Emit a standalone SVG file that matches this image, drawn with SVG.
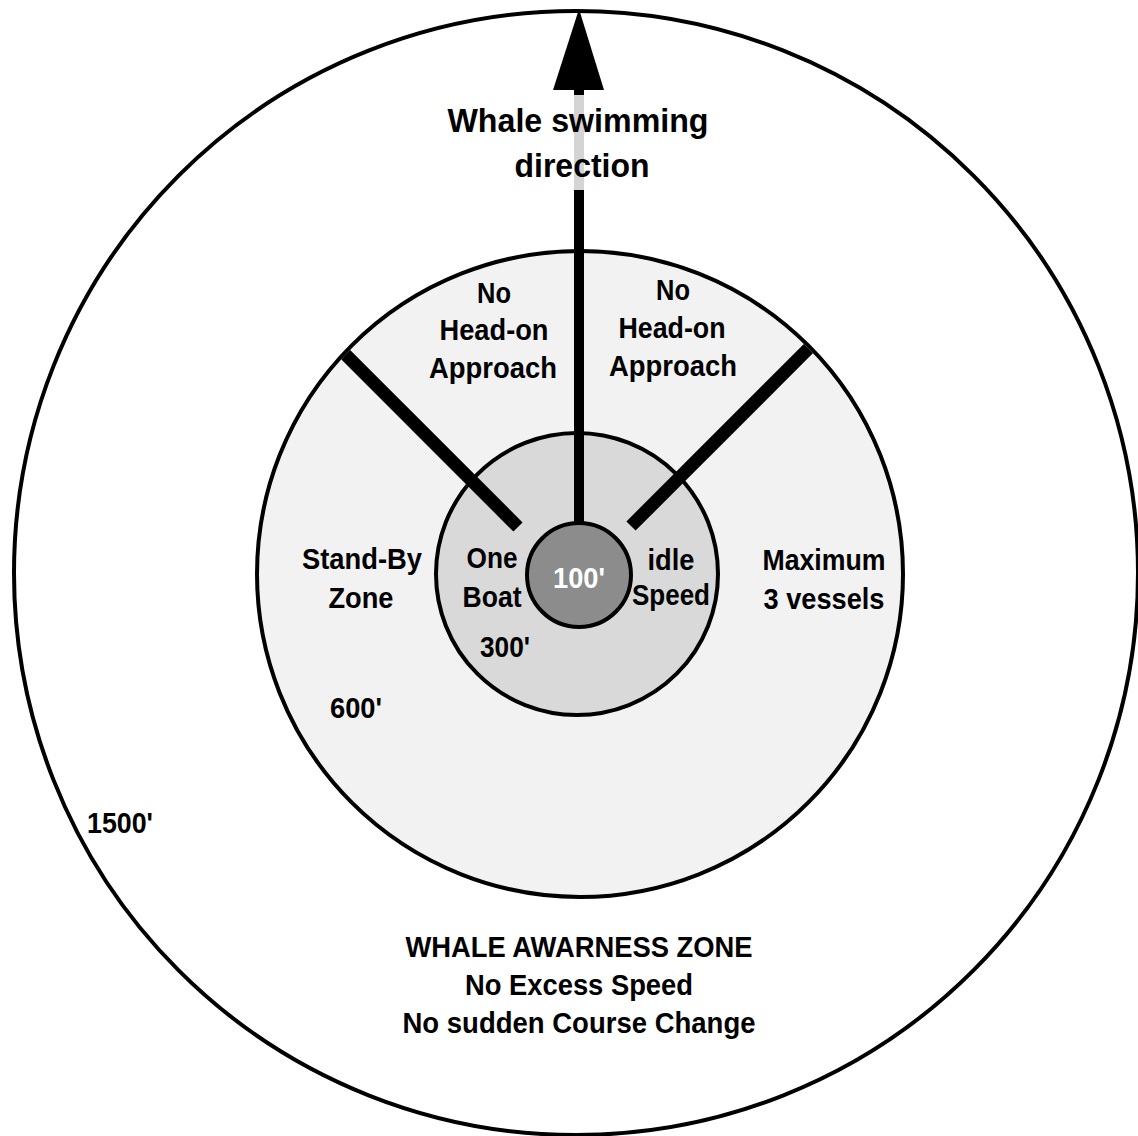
<svg xmlns="http://www.w3.org/2000/svg" width="1138" height="1136" viewBox="0 0 1138 1136">
<style>
  .ring { stroke: #000; stroke-width: 4; }
  .t { font-family: "Liberation Sans Narrow", "Liberation Sans", Arial, sans-serif; font-weight: bold; fill: #000; text-anchor: middle; }
  .s29 { font-size: 29px; }
  .s34 { font-size: 34px; }
  .w { fill: #fff; }
</style>
<defs>
  <clipPath id="midclip"><circle cx="580" cy="574" r="321"/></clipPath>
</defs>
<rect width="1138" height="1136" fill="#fff"/>

<g id="zone-1500">
  <circle class="ring" cx="576" cy="573" r="562" fill="#fff"/>
  <text class="t s29" x="120" y="833" textLength="66" lengthAdjust="spacingAndGlyphs">1500'</text>
  <text class="t s29" x="579" y="957" textLength="347" lengthAdjust="spacingAndGlyphs">WHALE AWARNESS ZONE</text>
  <text class="t s29" x="579" y="995" textLength="228" lengthAdjust="spacingAndGlyphs">No Excess Speed</text>
  <text class="t s29" x="579" y="1033" textLength="353" lengthAdjust="spacingAndGlyphs">No sudden Course Change</text>
</g>

<g id="zone-600">
  <circle class="ring" cx="580" cy="574" r="323" fill="#f2f2f2"/>
  <text class="t s29" x="362" y="569" textLength="120" lengthAdjust="spacingAndGlyphs">Stand-By</text>
  <text class="t s29" x="361" y="608" textLength="65" lengthAdjust="spacingAndGlyphs">Zone</text>
  <text class="t s29" x="356" y="718" textLength="52" lengthAdjust="spacingAndGlyphs">600'</text>
  <text class="t s29" x="824" y="570" textLength="123" lengthAdjust="spacingAndGlyphs">Maximum</text>
  <text class="t s29" x="824" y="609" textLength="121" lengthAdjust="spacingAndGlyphs">3 vessels</text>
</g>

<g id="no-head-on-left">
  <text class="t s29" x="494" y="303" textLength="34" lengthAdjust="spacingAndGlyphs">No</text>
  <text class="t s29" x="494" y="340" textLength="109" lengthAdjust="spacingAndGlyphs">Head-on</text>
  <text class="t s29" x="493" y="378" textLength="128" lengthAdjust="spacingAndGlyphs">Approach</text>
</g>

<g id="no-head-on-right">
  <text class="t s29" x="673" y="300" textLength="34" lengthAdjust="spacingAndGlyphs">No</text>
  <text class="t s29" x="672" y="338" textLength="107" lengthAdjust="spacingAndGlyphs">Head-on</text>
  <text class="t s29" x="673" y="376" textLength="128" lengthAdjust="spacingAndGlyphs">Approach</text>
</g>

<g id="zone-300">
  <circle class="ring" cx="577" cy="574" r="141" fill="#d9d9d9"/>
  <text class="t s29" x="492" y="568" textLength="51" lengthAdjust="spacingAndGlyphs">One</text>
  <text class="t s29" x="492" y="607" textLength="59" lengthAdjust="spacingAndGlyphs">Boat</text>
  <text class="t s29" x="505" y="657" textLength="50" lengthAdjust="spacingAndGlyphs">300'</text>
  <text class="t s29" x="671" y="570" textLength="47" lengthAdjust="spacingAndGlyphs">idle</text>
  <text class="t s29" x="671" y="605" textLength="78" lengthAdjust="spacingAndGlyphs">Speed</text>
</g>

<g id="dividers" clip-path="url(#midclip)">
  <line x1="518" y1="527" x2="330" y2="339" stroke="#000" stroke-width="13"/>
  <line x1="631" y1="526" x2="825" y2="332" stroke="#000" stroke-width="13"/>
</g>

<g id="connectors">
  <rect x="574" y="88" width="10" height="8" fill="#000"/>
  <rect x="574" y="95" width="10" height="95" fill="#d4d4d4"/>
  <rect x="574" y="190" width="10" height="336" fill="#000"/>
  <polygon points="579,9 604,90 553,90" fill="#000"/>
</g>

<g id="whale-direction">
  <text class="t s34" x="578" y="132" textLength="261" lengthAdjust="spacingAndGlyphs">Whale swimming</text>
  <text class="t s34" x="582" y="177" textLength="135" lengthAdjust="spacingAndGlyphs">direction</text>
</g>

<g id="zone-100">
  <circle class="ring" cx="579" cy="575" r="52" fill="#8c8c8c"/>
  <text class="t s29 w" x="579" y="588" textLength="52" lengthAdjust="spacingAndGlyphs">100'</text>
</g>
</svg>
